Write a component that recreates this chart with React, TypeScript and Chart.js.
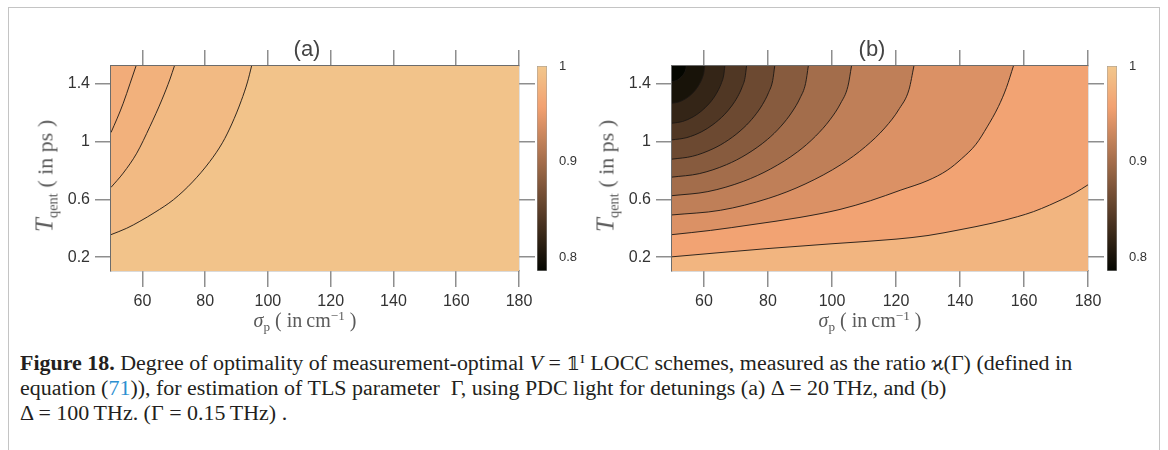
import React, { useEffect, useLayoutEffect, useRef } from "react";
import { Chart, registerables } from "chart.js";

Chart.register(...registerables);

// ---------- axes / ranges ----------
const X_MIN = 50;
const X_MAX = 180;
const Y_MIN = 0.105;
const Y_MAX = 1.52;
const C_MIN = 0.7856;
const C_MAX = 1;
const X_TICKS = [60, 80, 100, 120, 140, 160, 180];
const Y_TICKS = [0.2, 0.6, 1, 1.4];
const CBAR_TICKS = [0.8, 0.9, 1];

// ---------- panel (a): contour levels and lines [sigma_p, T_qent] ----------
const A_LEVELS = [0.975, 0.985, 0.995];
const A_MIN = 0.97;
const A_C1 = [[50, 1.061], [52, 1.16], [53.9, 1.263], [56.1, 1.401], [57.97, 1.52]];
const A_C2 = [[50, 0.682], [53.9, 0.781], [58.2, 0.918], [62.4, 1.102], [66.2, 1.286], [68.8, 1.43], [70.2, 1.52]];
const A_C3 = [[50, 0.356], [55, 0.4], [59.2, 0.448], [64, 0.51], [69.9, 0.597], [76, 0.72], [81.5, 0.861], [85.5, 0.99], [88.5, 1.12], [91.5, 1.28], [93.5, 1.41], [94.8, 1.52]];

// ---------- panel (b): contour levels and lines ----------
const B_LEVELS = [0.8, 0.82, 0.84, 0.86, 0.88, 0.9, 0.92, 0.94, 0.96, 0.98];
const B_MIN = 0.7856;
const B_C1 = [[50, 1.412], [51.78, 1.424], [53.12, 1.449], [53.92, 1.475], [54.36, 1.503], [54.45, 1.52]];
const B_C2 = [[50, 1.263], [52.04, 1.271], [54.08, 1.292], [55.61, 1.316], [57.14, 1.35], [58.16, 1.381], [58.98, 1.413], [59.59, 1.446], [60.0, 1.48], [60.2, 1.52]];
const B_C3 = [[50, 1.125], [53.3, 1.137], [56.6, 1.169], [59.08, 1.207], [61.55, 1.259], [63.2, 1.306], [64.52, 1.356], [65.51, 1.407], [66.17, 1.458], [66.5, 1.52]];
const B_C4 = [[50, 1.01], [54.66, 1.026], [59.32, 1.067], [62.82, 1.116], [66.31, 1.183], [68.64, 1.244], [70.5, 1.308], [71.9, 1.374], [72.83, 1.44], [73.3, 1.52]];
const B_C5 = [[50, 0.877], [56.42, 0.897], [62.84, 0.949], [67.66, 1.01], [72.47, 1.095], [75.68, 1.172], [78.25, 1.253], [80.17, 1.336], [81.46, 1.419], [82.1, 1.52]];
const B_C6 = [[50, 0.753], [58.52, 0.777], [67.04, 0.839], [73.43, 0.912], [79.82, 1.013], [84.08, 1.105], [87.49, 1.202], [90.04, 1.3], [91.75, 1.4], [92.6, 1.52]];
const B_C7 = [[50, 0.625], [61.22, 0.653], [72.44, 0.725], [80.86, 0.81], [89.27, 0.928], [94.88, 1.036], [99.37, 1.149], [102.73, 1.264], [104.98, 1.38], [106.1, 1.52]];
const B_C8 = [[50, 0.492], [65.12, 0.524], [80.24, 0.607], [91.58, 0.705], [102.92, 0.841], [110.48, 0.964], [116.53, 1.093], [121.06, 1.226], [124.09, 1.359], [125.6, 1.52]];
const B_C9 = [[50, 0.356], [62, 0.385], [75, 0.425], [90, 0.475], [102.5, 0.53], [112, 0.59], [121.3, 0.662], [130, 0.73], [136, 0.8], [140.5, 0.88], [145, 0.98], [148.5, 1.1], [152, 1.24], [154.5, 1.37], [156.7, 1.52]];
const B_C10 = [[50, 0.203], [65, 0.232], [80, 0.26], [100, 0.293], [120, 0.325], [130, 0.35], [140, 0.39], [150, 0.435], [158, 0.48], [163, 0.515], [168, 0.56], [172, 0.6], [176, 0.645], [180, 0.7]];

const A_CURVES = [A_C1, A_C2, A_C3];
const B_CURVES = [B_C1, B_C2, B_C3, B_C4, B_C5, B_C6, B_C7, B_C8, B_C9, B_C10];

// ---------- styles ----------
const SANS = '"Liberation Sans", Arial, Helvetica, sans-serif';
const SERIF = '"Liberation Serif", "Times New Roman", serif';

// copper-like colormap (slightly faded like the print)
function cmap(v: number): string {
  const t = Math.max(0, Math.min(1, (v - C_MIN) / (C_MAX - C_MIN)));
  const r = Math.min(242, 1.17 * t * 255 + 4);
  const g = 0.7812 * t * 255 * 0.97 + 6;
  const b = Math.min(255, 0.4975 * t * 255 + 14 * t);
  return `rgb(${Math.round(r)},${Math.round(g)},${Math.round(b)})`;
}

const gridOpts = {
  drawOnChartArea: false,
  drawTicks: true,
  tickLength: 16,
  color: "#8e8e8e",
  lineWidth: 1.5,
};
const borderOpts = { display: true, color: "#6c6c6c", width: 1.2 };
const tickFont = { family: SANS, size: 16 };

function setTicks(values: number[]) {
  return (s: any) => {
    s.ticks = values.map((v) => ({ value: v }));
  };
}

type PanelProps = {
  left: number;
  width: number;
  height: number;
  padding: { left: number; right: number; top: number; bottom: number };
  curves: number[][][];
  levels: number[];
  vmin: number;
};

function ContourChart(props: PanelProps) {
  const ref = useRef<HTMLCanvasElement | null>(null);
  useEffect(() => {
    const { curves, levels, vmin } = props;
    const bandValue = (i: number) => (i === 0 ? vmin : levels[i - 1]);
    const datasets: any[] = [
      {
        data: [
          { x: X_MIN, y: Y_MIN },
          { x: X_MAX, y: Y_MIN },
        ],
        backgroundColor: cmap(levels[levels.length - 1]),
        borderWidth: 0,
        fill: "end",
        pointRadius: 0,
        order: 100,
      },
      ...curves.map((pts, i) => ({
        data: pts.map(([x, y]) => ({ x, y })),
        borderColor: "#1c1714",
        borderWidth: 0.9,
        backgroundColor: cmap(bandValue(i)),
        fill: "end",
        pointRadius: 0,
        cubicInterpolationMode: "monotone",
        order: i + 1,
      })),
    ];
    const chart = new Chart(ref.current as HTMLCanvasElement, {
      type: "line",
      data: { datasets },
      options: {
        animation: false,
        responsive: false,
        devicePixelRatio: 1,
        events: [],
        layout: { padding: props.padding },
        plugins: { legend: { display: false }, tooltip: { enabled: false } },
        scales: {
          x: {
            type: "linear",
            position: "bottom",
            min: X_MIN,
            max: X_MAX,
            z: 1,
            afterBuildTicks: setTicks(X_TICKS),
            ticks: {
              font: tickFont,
              color: "#333",
              padding: 5,
              maxRotation: 0,
              autoSkip: false,
              callback: (v: any) => String(v),
            },
            grid: gridOpts,
            border: borderOpts,
            afterFit: (s: any) => {
              s.height = 50;
            },
          },
          x2: {
            type: "linear",
            position: "top",
            min: X_MIN,
            max: X_MAX,
            z: 1,
            afterBuildTicks: setTicks(X_TICKS),
            ticks: { display: false },
            grid: gridOpts,
            border: borderOpts,
            afterFit: (s: any) => {
              s.height = 16;
            },
          },
          y: {
            type: "linear",
            position: "left",
            min: Y_MIN,
            max: Y_MAX,
            z: 1,
            afterBuildTicks: setTicks(Y_TICKS),
            ticks: {
              font: tickFont,
              color: "#333",
              padding: 5,
              autoSkip: false,
              callback: (v: any) => String(v),
            },
            grid: gridOpts,
            border: borderOpts,
            afterFit: (s: any) => {
              s.width = 51;
            },
          },
          y2: {
            type: "linear",
            position: "right",
            min: Y_MIN,
            max: Y_MAX,
            z: 1,
            afterBuildTicks: setTicks(Y_TICKS),
            ticks: { display: false },
            grid: gridOpts,
            border: borderOpts,
            afterFit: (s: any) => {
              s.width = 16;
            },
          },
        },
      } as any,
    });
    return () => chart.destroy();
  }, []);
  return (
    <canvas
      ref={ref}
      width={props.width}
      height={props.height}
      style={{ position: "absolute", left: props.left, top: 0, width: props.width, height: props.height }}
    />
  );
}

function ColorBar({ left }: { left: number }) {
  const ref = useRef<HTMLCanvasElement | null>(null);
  useEffect(() => {
    const chart = new Chart(ref.current as HTMLCanvasElement, {
      type: "bar",
      data: {
        labels: [""],
        datasets: [
          {
            data: [[C_MIN, C_MAX]],
            backgroundColor: (ctx: any) => {
              const ch = ctx.chart;
              const ys = ch.scales && ch.scales.y;
              if (!ys || !ch.chartArea) return cmap(C_MAX);
              const g = ch.ctx.createLinearGradient(0, ys.getPixelForValue(C_MIN), 0, ys.getPixelForValue(C_MAX));
              for (let i = 0; i <= 40; i++) {
                const f = i / 40;
                g.addColorStop(f, cmap(C_MIN + f * (C_MAX - C_MIN)));
              }
              return g;
            },
            borderColor: "#9a9a9a",
            borderWidth: 0.8,
            borderSkipped: false,
            categoryPercentage: 1,
            barPercentage: 1,
          },
        ],
      },
      options: {
        animation: false,
        responsive: false,
        devicePixelRatio: 1,
        events: [],
        layout: { padding: { left: 7, right: 0, top: 66, bottom: 74 } },
        plugins: { legend: { display: false }, tooltip: { enabled: false } },
        scales: {
          x: { display: false },
          y: {
            type: "linear",
            position: "right",
            min: C_MIN,
            max: C_MAX,
            afterBuildTicks: setTicks(CBAR_TICKS),
            ticks: {
              font: { family: SANS, size: 13 },
              color: "#333",
              padding: 4,
              autoSkip: false,
              callback: (v: any) => String(v),
            },
            grid: { display: false },
            border: { display: false },
            afterFit: (s: any) => {
              s.width = 43;
            },
          },
        },
      } as any,
    });
    return () => chart.destroy();
  }, []);
  return (
    <canvas
      ref={ref}
      width={60}
      height={345}
      style={{ position: "absolute", left, top: 0, width: 60, height: 345 }}
    />
  );
}

const subStyle: React.CSSProperties = { fontSize: "0.66em", verticalAlign: "-0.32em", lineHeight: 0 };
const supStyle: React.CSSProperties = { fontSize: "0.66em", verticalAlign: "0.55em", lineHeight: 0 };

function YTitle({ cx, cy }: { cx: number; cy: number }) {
  return (
    <div
      style={{
        position: "absolute",
        left: cx,
        top: cy,
        transform: "translate(-50%, -50%) rotate(-90deg)",
        whiteSpace: "nowrap",
        fontFamily: SERIF,
        fontSize: 22,
        lineHeight: "22px",
        color: "#5a5a5a",
      }}
    >
      <i style={{ fontSize: 25 }}>T</i>
      <span style={subStyle}>qent</span> ( in ps )
    </div>
  );
}

function XTitle({ cx, cy }: { cx: number; cy: number }) {
  return (
    <div
      style={{
        position: "absolute",
        left: cx,
        top: cy,
        transform: "translate(-50%, -50%)",
        whiteSpace: "nowrap",
        fontFamily: SERIF,
        fontSize: 20,
        lineHeight: "20px",
        color: "#5a5a5a",
      }}
    >
      <i>σ</i>
      <span style={subStyle}>p</span> ( in&#8201;cm<span style={supStyle}>−1</span> )
    </div>
  );
}

function PanelTitle({ cx, cy, text }: { cx: number; cy: number; text: string }) {
  return (
    <div
      style={{
        position: "absolute",
        left: cx,
        top: cy,
        transform: "translate(-50%, -50%)",
        whiteSpace: "nowrap",
        fontFamily: SANS,
        fontSize: 22,
        lineHeight: "22px",
        color: "#444",
      }}
    >
      {text}
    </div>
  );
}

const CAP_LEFT = 20;
const CAP_WIDTH = 1052;

function Caption() {
  const l1 = useRef<HTMLDivElement | null>(null);
  const l2 = useRef<HTMLDivElement | null>(null);
  const l3 = useRef<HTMLDivElement | null>(null);
  useLayoutEffect(() => {
    if (!l1.current) return;
    const w = l1.current.offsetWidth;
    const s = CAP_WIDTH / w;
    [l1, l2, l3].forEach((r) => {
      if (r.current) r.current.style.transform = `scaleX(${s})`;
    });
  }, []);
  const base: React.CSSProperties = {
    position: "absolute",
    left: CAP_LEFT,
    whiteSpace: "nowrap",
    fontFamily: SERIF,
    fontSize: 20,
    lineHeight: "20px",
    color: "#231f20",
    transformOrigin: "0 0",
  };
  return (
    <>
      <div ref={l1} style={{ ...base, top: 353 }}>
        <b>Figure 18.</b> Degree of optimality of measurement-optimal <i>V</i> ={" "}
        <span style={{ fontFamily: '"DejaVu Serif", "DejaVu Sans", serif', fontSize: 18 }}>𝟙</span>
        <span style={supStyle}>I</span> LOCC schemes, measured as the ratio ϰ(Γ) (defined in
      </div>
      <div ref={l2} style={{ ...base, top: 378 }}>
        equation (<span style={{ color: "#2b8fd1" }}>71</span>)), for estimation of TLS parameter&nbsp; Γ, using PDC light for
        detunings (a) Δ = 20&#8201;THz, and (b)
      </div>
      <div ref={l3} style={{ ...base, top: 403 }}>
        Δ = 100&#8201;THz. (Γ = 0.15&#8201;THz) .
      </div>
    </>
  );
}

export default function App() {
  return (
    <div
      style={{
        position: "absolute",
        left: 0,
        top: 0,
        width: 1168,
        height: 450,
        overflow: "hidden",
        background: "#fff",
      }}
    >
      <div
        style={{
          position: "absolute",
          left: 8,
          top: 7,
          width: 1152,
          height: 470,
          border: "1px solid #c4c4c4",
          boxSizing: "border-box",
        }}
      />
      <ContourChart
        left={0}
        width={560}
        height={345}
        padding={{ left: 60, right: 25, top: 50, bottom: 24 }}
        curves={A_CURVES}
        levels={A_LEVELS}
        vmin={A_MIN}
      />
      <ColorBar left={530} />
      <ContourChart
        left={560}
        width={560}
        height={345}
        padding={{ left: 61, right: 16, top: 50, bottom: 24 }}
        curves={B_CURVES}
        levels={B_LEVELS}
        vmin={B_MIN}
      />
      <ColorBar left={1100} />
      <PanelTitle cx={307} cy={49} text="(a)" />
      <PanelTitle cx={872} cy={49} text="(b)" />
      <YTitle cx={45} cy={176} />
      <YTitle cx={606} cy={176} />
      <XTitle cx={305} cy={320} />
      <XTitle cx={870} cy={320} />
      <Caption />
    </div>
  );
}
